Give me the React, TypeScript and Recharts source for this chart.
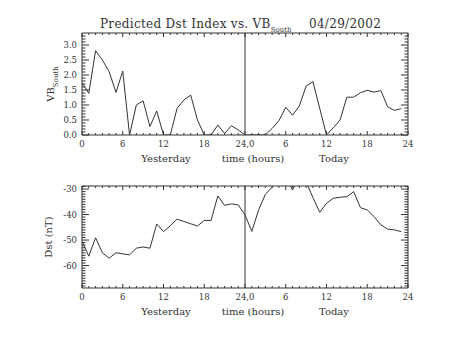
import { LineChart, Line, XAxis, YAxis, ReferenceLine } from "recharts"

const hours = [
  0, 1, 2, 3, 4, 5, 6, 7, 8, 9, 10, 11, 12, 13, 14, 15, 16, 17, 18, 19, 20, 21, 22, 23,
  24, 25, 26, 27, 28, 29, 30, 31, 32, 33, 34, 35, 36, 37, 38, 39, 40, 41, 42, 43, 44, 45, 46, 47,
]

const vbSouth = [
  1.74, 1.39, 2.81, 2.5, 2.11, 1.42, 2.13, 0, 1.0, 1.14, 0.28, 0.8, 0, 0, 0.89, 1.17, 1.33, 0.5, 0, 0, 0.33, 0.05, 0.31, 0.17,
  0, 0, 0, 0, 0.22, 0.48, 0.92, 0.66, 0.97, 1.63, 1.78, 0.89, 0, 0.24, 0.5, 1.26, 1.26, 1.41, 1.49, 1.43, 1.48, 0.94, 0.82, 0.88,
]

const dst = [
  -50.5, -56.3, -49.1, -55, -57.1, -55, -55.4, -55.8, -53.2, -52.7, -53.2, -43.7, -46.7, -44.4, -41.8, -42.7, -43.6, -44.5,
  -42.3, -42.3, -32.7, -36.4, -35.8, -36.2, -40.1, -46.6, -38.2, -32.1, -29.2, -26, -24.5, -30.4, -25, -27.2, -33.3, -39.1,
  -35.6, -33.6, -33.2, -33, -31, -37.3, -38.2, -40.8, -44, -45.7, -46, -46.7,
]

// x axis: 48 hours, yesterday then today
const xMajor = [0, 6, 12, 18, 24, 30, 36, 42, 48]
const xMajorLabels = ["0", "6", "12", "18", "24,0", "6", "12", "18", "24"]
const xMinor = Array.from({ length: 49 }, (_, i) => i)

const vbMajor = [0, 0.5, 1, 1.5, 2, 2.5, 3]
const vbLabels = ["0.0", "0.5", "1.0", "1.5", "2.0", "2.5", "3.0"]
const vbMinor = Array.from({ length: 34 }, (_, i) => i / 10)

const dstMajor = [-60, -50, -40, -30]
const dstLabels = ["-60", "-50", "-40", "-30"]
const dstMinor = Array.from({ length: 40 }, (_, i) => -68 + i)

const data = hours.map((h, i) => ({ hour: h, vb: vbSouth[i], dst: dst[i] }))

const INK = "#333"
const FONT = "'DejaVu Serif', serif"
const TICK_FONT = 8.5
const THIN = 0.001 // axes with zero size are not drawn by recharts

const isMajor = (list: number[], v: number) => list.some((m) => Math.abs(m - v) < 1e-6)

function BottomTick({ x, y, payload }: any) {
  const i = xMajor.findIndex((m) => Math.abs(m - payload.value) < 1e-6)
  return (
    <g>
      <line x1={x} x2={x} y1={y} y2={y - (i >= 0 ? 4 : 2)} stroke={INK} />
      {i >= 0 && (
        <text x={x} y={y + 12} textAnchor="middle" fontSize={TICK_FONT} fontFamily={FONT} fill={INK}>
          {xMajorLabels[i]}
        </text>
      )}
    </g>
  )
}

function TopTick({ x, y, payload }: any) {
  const major = isMajor(xMajor, payload.value)
  return <line x1={x} x2={x} y1={y} y2={y + (major ? 4 : 2)} stroke={INK} />
}

function makeLeftTick(major: number[], labels: string[]) {
  return function LeftTick({ x, y, payload }: any) {
    const i = major.findIndex((m) => Math.abs(m - payload.value) < 1e-6)
    return (
      <g>
        <line x1={x} x2={x + (i >= 0 ? 7 : 3.5)} y1={y} y2={y} stroke={INK} />
        {i >= 0 && (
          <text x={x - 5} y={y + 3} textAnchor="end" fontSize={TICK_FONT} fontFamily={FONT} fill={INK}>
            {labels[i]}
          </text>
        )}
      </g>
    )
  }
}

function makeRightTick(major: number[]) {
  return function RightTick({ x, y, payload }: any) {
    const m = isMajor(major, payload.value)
    return <line x1={x} x2={x - (m ? 7 : 3.5)} y1={y} y2={y} stroke={INK} />
  }
}

const VbLeftTick = makeLeftTick(vbMajor, vbLabels)
const VbRightTick = makeRightTick(vbMajor)
const DstLeftTick = makeLeftTick(dstMajor, dstLabels)
const DstRightTick = makeRightTick(dstMajor)

interface PanelProps {
  top: number
  marginTop: number
  marginBottom: number
  dataKey: string
  domain: [number, number]
  yTicks: number[]
  LeftTick: any
  RightTick: any
}

function Panel({ top, marginTop, marginBottom, dataKey, domain, yTicks, LeftTick, RightTick }: PanelProps) {
  return (
    <div style={{ position: "absolute", left: 0, top }}>
      <LineChart
        width={453}
        height={170}
        data={data}
        margin={{ top: marginTop, right: 45, bottom: marginBottom, left: 82 }}
      >
        <XAxis
          dataKey="hour"
          type="number"
          domain={[0, 48]}
          ticks={xMinor}
          interval={0}
          height={THIN}
          tickSize={0}
          tickMargin={0}
          tickLine={false}
          tick={<BottomTick />}
          axisLine={{ stroke: INK }}
          allowDataOverflow
        />
        <XAxis
          xAxisId="top"
          dataKey="hour"
          orientation="top"
          type="number"
          domain={[0, 48]}
          ticks={xMinor}
          interval={0}
          height={THIN}
          tickSize={0}
          tickMargin={0}
          tickLine={false}
          tick={<TopTick />}
          axisLine={{ stroke: INK }}
          allowDataOverflow
        />
        <YAxis
          type="number"
          domain={domain}
          ticks={yTicks}
          interval={0}
          width={THIN}
          tickSize={0}
          tickMargin={0}
          tickLine={false}
          tick={<LeftTick />}
          axisLine={{ stroke: INK }}
          allowDataOverflow
        />
        <YAxis
          yAxisId="right"
          orientation="right"
          type="number"
          domain={domain}
          ticks={yTicks}
          interval={0}
          width={THIN}
          tickSize={0}
          tickMargin={0}
          tickLine={false}
          tick={<RightTick />}
          axisLine={{ stroke: INK }}
          allowDataOverflow
        />
        <ReferenceLine x={24} stroke={INK} />
        {/* invisible twin so the mirrored top/right axes share the same data */}
        <Line
          xAxisId="top"
          yAxisId="right"
          dataKey={dataKey}
          stroke="none"
          dot={false}
          activeDot={false}
          isAnimationActive={false}
        />
        <Line
          type="linear"
          dataKey={dataKey}
          stroke={INK}
          strokeWidth={1}
          dot={false}
          isAnimationActive={false}
        />
      </LineChart>
    </div>
  )
}

function XLabels({ y }: { y: number }) {
  const style = { fontSize: 10, fontFamily: FONT, fill: INK }
  return (
    <g>
      <text x={166} y={y} textAnchor="middle" {...style}>Yesterday</text>
      <text x={253} y={y} textAnchor="middle" {...style}>time (hours)</text>
      <text x={334} y={y} textAnchor="middle" {...style}>Today</text>
    </g>
  )
}

export default function App() {
  return (
    <div style={{ position: "absolute", left: 0, top: 0, width: 453, height: 340, background: "#fff" }}>
      <Panel
        top={0}
        marginTop={33}
        marginBottom={35}
        dataKey="vb"
        domain={[0, 3.4]}
        yTicks={vbMinor}
        LeftTick={VbLeftTick}
        RightTick={VbRightTick}
      />
      <Panel
        top={170}
        marginTop={16}
        marginBottom={52}
        dataKey="dst"
        domain={[-68.8, -28.8]}
        yTicks={dstMinor}
        LeftTick={DstLeftTick}
        RightTick={DstRightTick}
      />
      <svg
        width={453}
        height={340}
        style={{ position: "absolute", left: 0, top: 0, pointerEvents: "none" }}
      >
        <text x={100} y={28} fontSize={12} letterSpacing={0.3} fontFamily={FONT} fill={INK}>
          Predicted Dst Index vs. VB
          <tspan fontSize={7} dy={4} letterSpacing={0}>South</tspan>
        </text>
        <text x={309} y={28} fontSize={12} letterSpacing={0.3} fontFamily={FONT} fill={INK}>
          04/29/2002
        </text>
        <text transform="translate(54, 84) rotate(-90)" textAnchor="middle" fontSize={10} fontFamily={FONT} fill={INK}>
          VB
          <tspan fontSize={7} dy={4}>South</tspan>
        </text>
        <text transform="translate(51.5, 237) rotate(-90)" textAnchor="middle" fontSize={10} fontFamily={FONT} fill={INK}>
          Dst (nT)
        </text>
        <XLabels y={161.5} />
        <XLabels y={314.5} />
      </svg>
    </div>
  )
}
